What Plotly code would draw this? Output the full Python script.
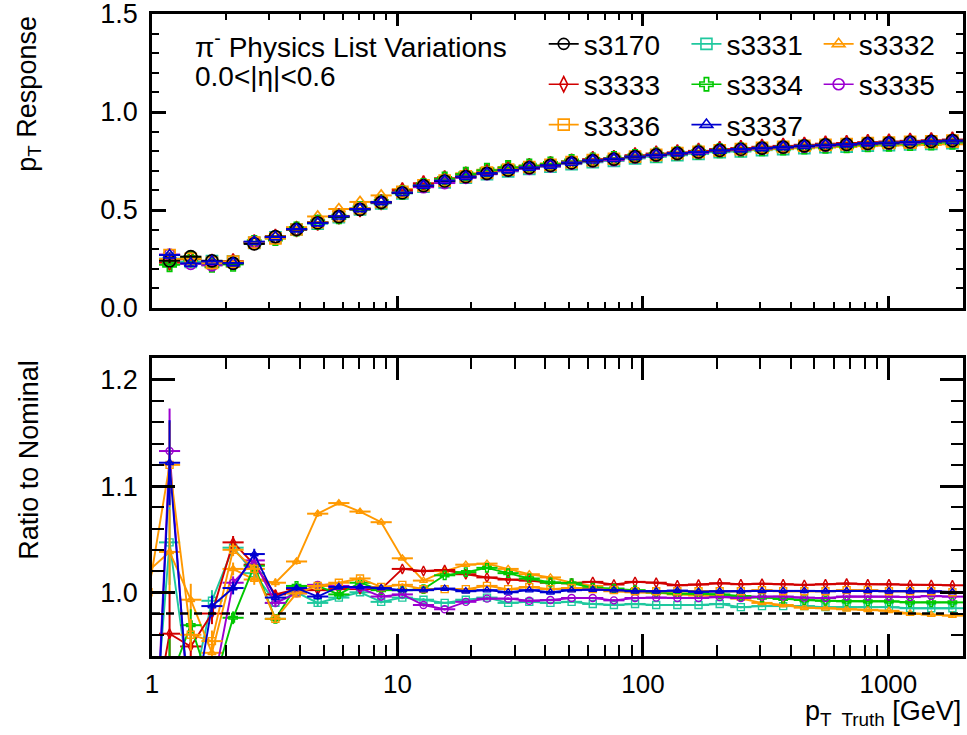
import plotly.graph_objects as go
import numpy as np

# bin edges in pT [GeV]; first bin is an underflow bin just below the axis start
bin_edges = [0.876, 1.068, 1.302, 1.589, 1.938, 2.363, 2.882, 3.514, 4.285, 5.226,
             6.374, 7.773, 9.480, 11.56, 14.10, 17.20, 20.97, 25.58, 31.19, 38.04,
             46.39, 56.58, 69.00, 84.14, 102.6, 125.1, 152.6, 186.1, 227.0, 276.8,
             337.6, 411.7, 502.1, 612.3, 746.7, 910.6, 1110.6, 1354.4, 1651.8, 2014.4]

# nominal response (s3170), 38 bins (no underflow)
nominal = [0.241, 0.262, 0.241, 0.228, 0.327, 0.364, 0.401, 0.435, 0.466, 0.503,
           0.539, 0.588, 0.624, 0.648, 0.670, 0.687, 0.704, 0.716, 0.728, 0.741,
           0.752, 0.760, 0.772, 0.781, 0.789, 0.796, 0.804, 0.810, 0.816, 0.821,
           0.827, 0.832, 0.835, 0.840, 0.843, 0.847, 0.850, 0.854]
nominal_err = [0.012, 0.008, 0.005, 0.003, 0.002, 0.002, 0.002, 0.001, 0.001, 0.001,
               0.001, 0.001, 0.001, 0.001, 0.001, 0.001, 0.001, 0.001, 0.001, 0.001,
               0.001, 0.001, 0.001, 0.001, 0.001, 0.001, 0.001, 0.001, 0.001, 0.001,
               0.001, 0.001, 0.001, 0.001, 0.001, 0.001, 0.001, 0.001]

# ratio to nominal, 39 values (first = underflow bin)
r_s3331 = [0.80, 1.047, 0.90, 0.992, 1.042, 1.018, 0.990, 1.000, 0.990, 0.995,
           1.000, 0.991, 0.995, 0.993, 0.990, 0.993, 0.995, 0.990, 0.991, 0.990,
           0.991, 0.989, 0.988, 0.989, 0.988, 0.988, 0.988, 0.989, 0.986, 0.987,
           0.987, 0.987, 0.986, 0.986, 0.986, 0.986, 0.985, 0.985, 0.985]
r_s3332 = [1.02, 1.038, 0.993, 0.943, 1.022, 1.012, 1.009, 1.029, 1.074, 1.084,
           1.076, 1.066, 1.032, 1.011, 1.020, 1.026, 1.027, 1.022, 1.017, 1.014,
           1.009, 1.006, 1.001, 1.000, 0.9995, 0.998, 0.997, 0.9965, 0.994, 0.990,
           0.988, 0.9855, 0.985, 0.984, 0.9835, 0.9826, 0.980, 0.979, 0.978]
r_s3333 = [0.85, 0.961, 0.949, 0.980, 1.047, 1.026, 0.998, 1.003, 1.002, 1.003,
           1.003, 1.003, 1.022, 1.020, 1.021, 1.017, 1.014, 1.012, 1.011, 1.009,
           1.0085, 1.0098, 1.0073, 1.0098, 1.009, 1.0066, 1.0073, 1.0085, 1.0076, 1.008,
           1.0076, 1.007, 1.0076, 1.0082, 1.0076, 1.0076, 1.007, 1.007, 1.0066]
r_s3334 = [0.80, 0.916, 0.969, 0.907, 0.976, 1.025, 0.975, 1.006, 1.006, 0.998,
           1.009, 1.002, 1.002, 1.003, 1.016, 1.019, 1.023, 1.018, 1.013, 1.0092,
           1.0085, 1.0044, 1.0035, 1.002, 1.000, 0.9987, 0.9987, 0.998, 0.9965, 0.995,
           0.9937, 0.9927, 0.992, 0.9915, 0.9915, 0.9915, 0.9905, 0.9905, 0.9905]
r_s3335 = [0.70, 1.133, 0.86, 0.905, 1.009, 1.030, 0.990, 0.999, 1.007, 1.006,
           1.004, 0.996, 0.998, 0.988, 0.984, 0.991, 0.994, 0.994, 0.992, 0.9927,
           0.9946, 0.9946, 0.9924, 0.9946, 0.995, 0.9946, 0.9946, 0.9956, 0.9946, 0.9959,
           0.996, 0.995, 0.9946, 0.996, 0.996, 0.996, 0.9955, 0.9965, 0.9959]
r_s3336 = [1.00, 1.120, 0.960, 0.954, 1.040, 1.022, 0.975, 0.999, 1.006, 1.009,
           1.013, 1.005, 1.007, 1.003, 1.003, 1.003, 1.006, 1.003, 1.005, 1.003,
           1.004, 1.003, 1.002, 1.001, 1.001, 1.001, 1.001, 1.001, 1.001, 1.002,
           1.001, 1.001, 1.001, 1.002, 1.002, 1.001, 1.001, 1.001, 1.000]
r_s3337 = [0.70, 1.122, 0.87, 0.987, 1.004, 1.036, 0.995, 1.004, 0.996, 1.005,
           1.005, 1.004, 1.002, 1.002, 1.0035, 1.001, 1.002, 1.000, 1.002, 1.000,
           1.002, 1.0025, 1.002, 1.001, 1.001, 1.0016, 1.0005, 1.001, 1.001, 1.0013,
           1.0013, 1.0013, 1.001, 1.0013, 1.0013, 1.001, 1.001, 1.001, 1.0003]
ratio_err = [0.04, 0.04, 0.015, 0.01, 0.006, 0.005, 0.004, 0.003, 0.003, 0.002,
             0.002, 0.0015, 0.0015, 0.0015, 0.001, 0.001, 0.001, 0.001, 0.001, 0.001,
             0.001, 0.001, 0.001, 0.001, 0.001, 0.001, 0.001, 0.001, 0.001, 0.001,
             0.001, 0.001, 0.001, 0.001, 0.001, 0.001, 0.001, 0.001, 0.001]

series = [
    # name, ratio, colour, symbol, legend column, row
    ("s3331", r_s3331, "#1fc89e", "square-open", "legend2", 0),
    ("s3332", r_s3332, "#ff9900", "triangle-up-open", "legend3", 0),
    ("s3333", r_s3333, "#d10000", "diamond-tall-open", "legend", 1),
    ("s3334", r_s3334, "#00c800", "cross-open", "legend2", 1),
    ("s3335", r_s3335, "#9b00d0", "circle-open", "legend3", 1),
    ("s3336", r_s3336, "#ff9900", "square-open", "legend", 2),
    ("s3337", r_s3337, "#0000d0", "triangle-up-open", "legend2", 2),
]

edges = np.array(bin_edges)
centers = np.sqrt(edges[:-1] * edges[1:])
ex_plus = edges[1:] - centers
ex_minus = centers - edges[:-1]
nom = np.array(nominal)

fig = go.Figure()
FONT = "Liberation Sans, Arial, Helvetica, sans-serif"


def top_trace(y, col, sym, size):
    return go.Scatter(
        x=centers[1:], y=y, mode="markers", xaxis="x", yaxis="y",
        marker=dict(symbol=sym, size=size, color=col, line=dict(width=1.7, color=col)),
        error_x=dict(type="data", array=ex_plus[1:], arrayminus=ex_minus[1:],
                     color=col, thickness=2, width=0),
        error_y=dict(type="data", array=np.array(nominal_err), color=col, thickness=2, width=0),
        showlegend=False, hoverinfo="skip")


# top panel: variants (blue last), nominal in between
for name, ratio, col, sym, leg, row in series[:-1]:
    fig.add_trace(top_trace(nom * np.array(ratio)[1:], col, sym, 11))
fig.add_trace(top_trace(nom, "black", "circle-open", 12))
name, ratio, col, sym, leg, row = series[-1]
fig.add_trace(top_trace(nom * np.array(ratio)[1:], col, sym, 11))

# bottom panel: ratios
for name, ratio, col, sym, leg, row in series:
    fig.add_trace(go.Scatter(
        x=centers, y=ratio, mode="lines+markers", xaxis="x2", yaxis="y2",
        line=dict(color=col, width=1.9),
        marker=dict(symbol=sym, size=7, color=col, line=dict(width=1.4, color=col)),
        error_x=dict(type="data", array=ex_plus, arrayminus=ex_minus,
                     color=col, thickness=2, width=0),
        error_y=dict(type="data", array=np.array(ratio_err), color=col, thickness=2, width=0),
        showlegend=False, hoverinfo="skip"))

# legend-only entries
leg_entries = [("s3170", "black", "circle-open", "legend", 0)] + [
    (n, c, s, l, rw) for n, _, c, s, l, rw in series]
for name, col, sym, leg, row in leg_entries:
    fig.add_trace(go.Scatter(
        x=[None], y=[None], mode="lines+markers", name=name, xaxis="x", yaxis="y",
        line=dict(color=col, width=1.6),
        marker=dict(symbol=sym, size=11, color=col, line=dict(width=1.6, color=col)),
        legend=leg, legendgroup=name, legendrank=row))

minor_x = [2, 3, 4, 5, 6, 7, 8, 9, 20, 30, 40, 50, 60, 70, 80, 90,
           200, 300, 400, 500, 600, 700, 800, 900, 2000]
xrange_ = [0, np.log10(bin_edges[-1])]

axis_common = dict(showline=True, linewidth=2.5, linecolor="black", mirror="allticks",
                   ticks="inside", tickwidth=2.5, tickcolor="black", showgrid=False,
                   zeroline=False, automargin=False, ticklabeloverflow="allow",
                   tickfont=dict(family=FONT, size=27, color="black"))

fig.update_layout(
    width=967, height=735,
    margin=dict(l=152, r=4, t=14, b=79, autoexpand=False),
    paper_bgcolor="white", plot_bgcolor="white",
    font=dict(family=FONT, color="black"),
    xaxis=dict(axis_common, type="log", range=xrange_, domain=[0, 1], anchor="y",
               tickvals=[1, 10, 100, 1000], showticklabels=False, ticklen=12,
               minor=dict(tickvals=minor_x, ticks="inside", ticklen=6, tickwidth=2, tickcolor="black")),
    yaxis=dict(axis_common, range=[0, 1.5], domain=[0.542, 1], anchor="x",
               tickvals=[0, 0.5, 1.0, 1.5], ticktext=["0.0", "0.5", "1.0", "1.5"], ticklen=14,
               ticklabelstandoff=6,
               minor=dict(dtick=0.1, ticks="inside", ticklen=7, tickwidth=2, tickcolor="black")),
    xaxis2=dict(axis_common, type="log", range=xrange_, domain=[0, 1], anchor="y2",
                tickvals=[1, 10, 100, 1000], ticktext=["1", "10", "100", "1000"], ticklen=22,
                ticklabelstandoff=3, tickfont=dict(family=FONT, size=26, color="black"),
                minor=dict(tickvals=minor_x, ticks="inside", ticklen=11, tickwidth=2, tickcolor="black")),
    yaxis2=dict(axis_common, range=[0.94, 1.2205], domain=[0, 0.464], anchor="x2",
                tickvals=[1.0, 1.1, 1.2], ticktext=["1.0", "1.1", "1.2"], ticklen=23,
                ticklabelstandoff=6,
                minor=dict(dtick=0.02, tick0=0.94, ticks="inside", ticklen=12, tickwidth=2, tickcolor="black")),
)

leg_style = dict(orientation="v", bgcolor="rgba(0,0,0,0)", borderwidth=0,
                 font=dict(family=FONT, size=28, color="black"),
                 itemwidth=30, tracegroupgap=1, xanchor="left", yanchor="top",
                 traceorder="grouped")
fig.update_layout(
    legend=dict(leg_style, x=0.483, y=0.992),
    legend2=dict(leg_style, x=0.659, y=0.992),
    legend3=dict(leg_style, x=0.822, y=0.992),
)

fig.add_shape(type="line", xref="x2 domain", x0=0, x1=1, yref="y2", y0=0.98, y1=0.98,
              line=dict(color="black", width=2.5, dash="8px,6px"), layer="above")

fig.add_annotation(text="π<sup>-</sup> Physics List Variations", xref="paper", yref="paper",
                   x=0.05, y=0.952, xanchor="left", yanchor="middle", showarrow=False,
                   font=dict(family=FONT, size=28, color="black"))
fig.add_annotation(text="0.0&lt;|η|&lt;0.6", xref="paper", yref="paper",
                   x=0.05, y=0.902, xanchor="left", yanchor="middle", showarrow=False,
                   font=dict(family=FONT, size=28, color="black"))
fig.add_annotation(text="p<sub>T</sub> Response", xref="paper", yref="paper",
                   x=-0.152, y=1.0, xanchor="center", yanchor="top", textangle=-90, showarrow=False,
                   font=dict(family=FONT, size=27, color="black"))
fig.add_annotation(text="Ratio to Nominal", xref="paper", yref="paper",
                   x=-0.152, y=0.464, xanchor="center", yanchor="top", textangle=-90, showarrow=False,
                   font=dict(family=FONT, size=27, color="black"))
fig.add_annotation(text="p<sub>T  Truth</sub> [GeV]", xref="paper", yref="paper",
                   x=1.0, y=-0.089, xanchor="right", yanchor="middle", showarrow=False,
                   font=dict(family=FONT, size=27, color="black"))

fig.write_html("out.html", config={"displayModeBar": False},
               post_script="document.body.style.margin='0px';")
